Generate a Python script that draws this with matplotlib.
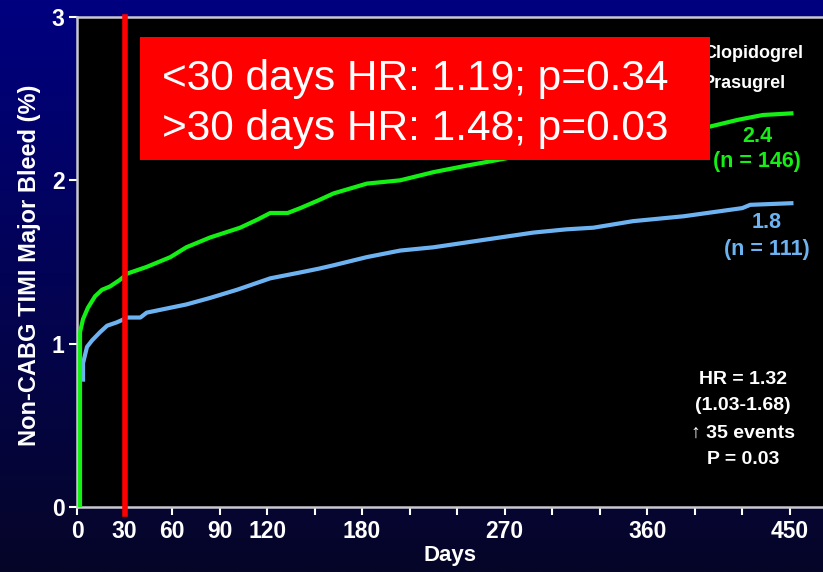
import numpy as np
import matplotlib
matplotlib.use("Agg")
import matplotlib.pyplot as plt
from matplotlib.patches import Rectangle

# --- data ---
clop_days = [1.9, 1.9, 3.8, 6.9, 11.4, 15.8, 20.8, 27, 32, 44, 59, 69, 84, 103, 114, 122, 133,
             141, 153, 162, 183, 204, 225, 246, 263, 290, 330, 370, 400, 417, 433, 451]
clop_rate = [0.0, 1.07, 1.15, 1.22, 1.29, 1.33, 1.35, 1.39, 1.43, 1.47, 1.53, 1.59, 1.65, 1.71, 1.76, 1.80, 1.80,
             1.83, 1.88, 1.92, 1.98, 2.00, 2.05, 2.09, 2.12, 2.17, 2.23, 2.28, 2.33, 2.37, 2.40, 2.41]

pras_days = [3.8, 3.8, 6.3, 9.5, 14.5, 19, 25, 32, 40, 44, 59, 69, 84, 101, 122, 143, 153, 162,
             183, 204, 225, 246, 267, 288, 309, 326, 351, 383, 420, 425, 451]
pras_rate = [0.78, 0.88, 0.98, 1.02, 1.07, 1.11, 1.13, 1.16, 1.16, 1.19, 1.22, 1.24, 1.28, 1.33, 1.40, 1.44, 1.46, 1.48,
             1.53, 1.57, 1.59, 1.62, 1.65, 1.68, 1.70, 1.71, 1.75, 1.78, 1.83, 1.85, 1.86]

cutoff_day = 30
x_ticks = list(range(0, 451, 30))
x_labels = ["0", "30", "60", "90", "120", "", "180", "", "", "270", "", "", "360", "", "", "450"]
y_ticks = [0, 1, 2, 3]

box_lines = ["<30 days HR: 1.19; p=0.34", ">30 days HR: 1.48; p=0.03"]
stats_lines = ["HR = 1.32", "(1.03-1.68)", "\u2191 35 events", "P = 0.03"]

GREEN = "#14f014"
BLUE = "#6db3f2"
FONT = ["Liberation Sans", "DejaVu Sans"]
plt.rcParams["font.family"] = FONT

W, H = 823, 572
fig = plt.figure(figsize=(W / 100, H / 100), dpi=100)

# navy gradient backdrop
bg = fig.add_axes([0, 0, 1, 1], zorder=-10)
grad = np.linspace(0, 1, 256).reshape(-1, 1)
top = np.array([0, 0, 128]) / 255
bot = np.array([6, 6, 40]) / 255
img = top + (bot - top) * grad[:, :, None]
bg.imshow(img, aspect="auto", extent=[0, 1, 0, 1])
bg.axis("off")

ax = fig.add_axes([77 / W, (H - 507) / H, (W - 77) / W, 490 / H])
ax.set_facecolor("black")
ax.set_xlim(0, (W - 77) / 1.584)
ax.set_ylim(0, 3)

for s in ["left", "bottom", "top"]:
    ax.spines[s].set_color("#c8c8d0")
    ax.spines[s].set_linewidth(1.8)
ax.spines["right"].set_visible(False)

ax.plot(pras_days, pras_rate, color=BLUE, lw=3, solid_joinstyle="round", zorder=3)
ax.plot(clop_days, clop_rate, color=GREEN, lw=3, solid_joinstyle="round", zorder=4)

ax.plot([cutoff_day, cutoff_day], [-0.04, 3], color="#ff0000", lw=4, clip_on=False, zorder=5)

ax.set_xticks(x_ticks)
ax.set_xticklabels(x_labels)
ax.set_yticks(y_ticks)
ax.tick_params(colors="white", direction="out", length=6, width=1.5, pad=3)
for lab in ax.get_xticklabels() + ax.get_yticklabels():
    lab.set_fontweight("bold")
    lab.set_fontsize(16.5)
    lab.set_color("white")

ax.set_xlabel("Days", fontweight="bold", fontsize=16, color="white", labelpad=2)
fig.text(30 / W, 1 - 265 / H, "Non-CABG TIMI Major Bleed (%)", rotation=90,
         fontweight="bold", fontsize=17, color="white", ha="center", va="center")

# legend labels (partly hidden behind the red box)
fig.text(703 / W, 1 - 53 / H, "Clopidogrel", fontweight="bold", fontsize=13,
         color="white", ha="left", va="center", zorder=0.5)
fig.text(703 / W, 1 - 84 / H, "Prasugrel", fontweight="bold", fontsize=13,
         color="white", ha="left", va="center", zorder=0.5)

# end-of-curve labels
fig.text(757 / W, 1 - 137 / H, "2.4", fontweight="bold", fontsize=15.5,
         color=GREEN, ha="center", va="center")
fig.text(757 / W, 1 - 161 / H, "(n = 146)", fontweight="bold", fontsize=15.5,
         color=GREEN, ha="center", va="center")
fig.text(767 / W, 1 - 222 / H, "1.8", fontweight="bold", fontsize=15.5,
         color=BLUE, ha="center", va="center")
fig.text(767 / W, 1 - 249 / H, "(n = 111)", fontweight="bold", fontsize=15.5,
         color=BLUE, ha="center", va="center")

for i, line in enumerate(stats_lines):
    fig.text(743 / W, 1 - (379 + 27 * i) / H, line, fontweight="bold",
             fontsize=14, color="white", ha="center", va="center")

# red annotation box
fig.patches.append(Rectangle((140 / W, 1 - 160 / H), 570 / W, 123 / H, transform=fig.transFigure,
                             facecolor="#ff0000", edgecolor="none", zorder=1))
for i, line in enumerate(box_lines):
    fig.text(162 / W, 1 - (90 + 50 * i) / H, line, fontsize=30.5, color="white",
             ha="left", va="baseline", zorder=2)

fig.savefig("out.png", dpi=100, facecolor=fig.get_facecolor())
